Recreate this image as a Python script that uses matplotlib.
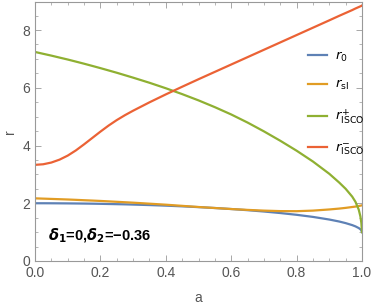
import matplotlib
matplotlib.use('Agg')
import matplotlib.pyplot as plt
from matplotlib.ticker import MultipleLocator, FormatStrFormatter

plt.rcParams['font.family'] = ['Liberation Sans', 'DejaVu Sans']
plt.rcParams['mathtext.fontset'] = 'dejavusans'

# spin values sampled along the curves
a = [0.0, 0.025, 0.05, 0.075, 0.1, 0.125, 0.15, 0.175, 0.2, 0.225, 0.25, 0.275, 0.3,
     0.35, 0.4, 0.45, 0.5, 0.55, 0.6, 0.65, 0.7, 0.75, 0.8, 0.85, 0.9, 0.93, 0.95,
     0.97, 0.98, 0.99, 0.995, 0.998, 1.0]

# horizon r0
r0 = [2.0, 2.0, 1.999, 1.997, 1.995, 1.992, 1.989, 1.985, 1.98, 1.974, 1.968, 1.962, 1.954,
      1.937, 1.917, 1.893, 1.866, 1.835, 1.80, 1.76, 1.714, 1.661, 1.60, 1.527, 1.436,
      1.368, 1.312, 1.243, 1.199, 1.141, 1.10, 1.063, 1.0]
# static limit r_sl
r_sl = [2.17, 2.16, 2.15, 2.14, 2.13, 2.118, 2.105, 2.093, 2.08, 2.065, 2.05, 2.035, 2.02,
        1.985, 1.95, 1.91, 1.87, 1.835, 1.80, 1.77, 1.745, 1.728, 1.725, 1.745, 1.785,
        1.815, 1.84, 1.87, 1.885, 1.905, 1.915, 1.925, 1.93]
# prograde / retrograde ISCO
r_isco_p = [7.24, 7.176, 7.113, 7.045, 6.978, 6.906, 6.833, 6.757, 6.68, 6.6, 6.52, 6.435, 6.35,
            6.173, 5.983, 5.78, 5.563, 5.328, 5.075, 4.795, 4.49, 4.165, 3.82, 3.445, 3.02,
            2.72, 2.50, 2.23, 2.05, 1.78, 1.55, 1.32, 1.0]
r_isco_m = [3.33, 3.35, 3.41, 3.51, 3.65, 3.83, 4.04, 4.26, 4.48, 4.69, 4.88, 5.05, 5.205,
            5.495, 5.77, 6.035, 6.295, 6.55, 6.805, 7.06, 7.315, 7.57, 7.825, 8.08, 8.335,
            8.49, 8.59, 8.69, 8.745, 8.795, 8.82, 8.835, 8.85]

labels = [r'$r_0$', r'$r_{\rm sl}$', r'$r^{+}_{\rm ISCO}$', r'$r^{-}_{\rm ISCO}$']
colors = ['#5E81B5', '#E19C24', '#8FB032', '#EB6235']

fig = plt.figure(figsize=(3.74, 3.07), dpi=100)
ax = fig.add_axes([35/374, 46/307, 327/374, 259/307])

for ys, lab, c in zip([r0, r_sl, r_isco_p, r_isco_m], labels, colors):
    ax.plot(a, ys, color=c, lw=1.6, label=lab)

ax.set_xlim(0, 1)
ax.set_ylim(0, 8.97)
ax.xaxis.set_major_locator(MultipleLocator(0.2))
ax.xaxis.set_minor_locator(MultipleLocator(0.05))
ax.yaxis.set_major_locator(MultipleLocator(2))
ax.yaxis.set_minor_locator(MultipleLocator(0.5))
ax.xaxis.set_major_formatter(FormatStrFormatter('%.1f'))
ax.tick_params(which='both', direction='in', top=True, right=True, colors='#999999',
               labelcolor='#555555', labelsize=10)
ax.tick_params(which='major', length=4, width=0.6)
ax.tick_params(which='minor', length=2.2, width=0.5)
for s in ax.spines.values():
    s.set_color('#999999')
    s.set_linewidth(0.8)

ax.set_xlabel('a', color='#555555', fontsize=10, labelpad=8)
ax.set_ylabel('r', color='#555555', fontsize=10, labelpad=4)

ax.legend(loc='upper left', bbox_to_anchor=(0.82, 0.837), borderaxespad=0, frameon=False,
          fontsize=9.5, handlelength=1.4, handletextpad=0.6, labelspacing=1.12)

ax.text(0.04, 0.08, r'$\mathbfit{\delta}_\mathbf{1}$=0,$\mathbfit{\delta}_\mathbf{2}$=−0.36',
        transform=ax.transAxes, fontsize=10.5, fontweight='bold', color='black')

fig.savefig('out.png', dpi=100)
